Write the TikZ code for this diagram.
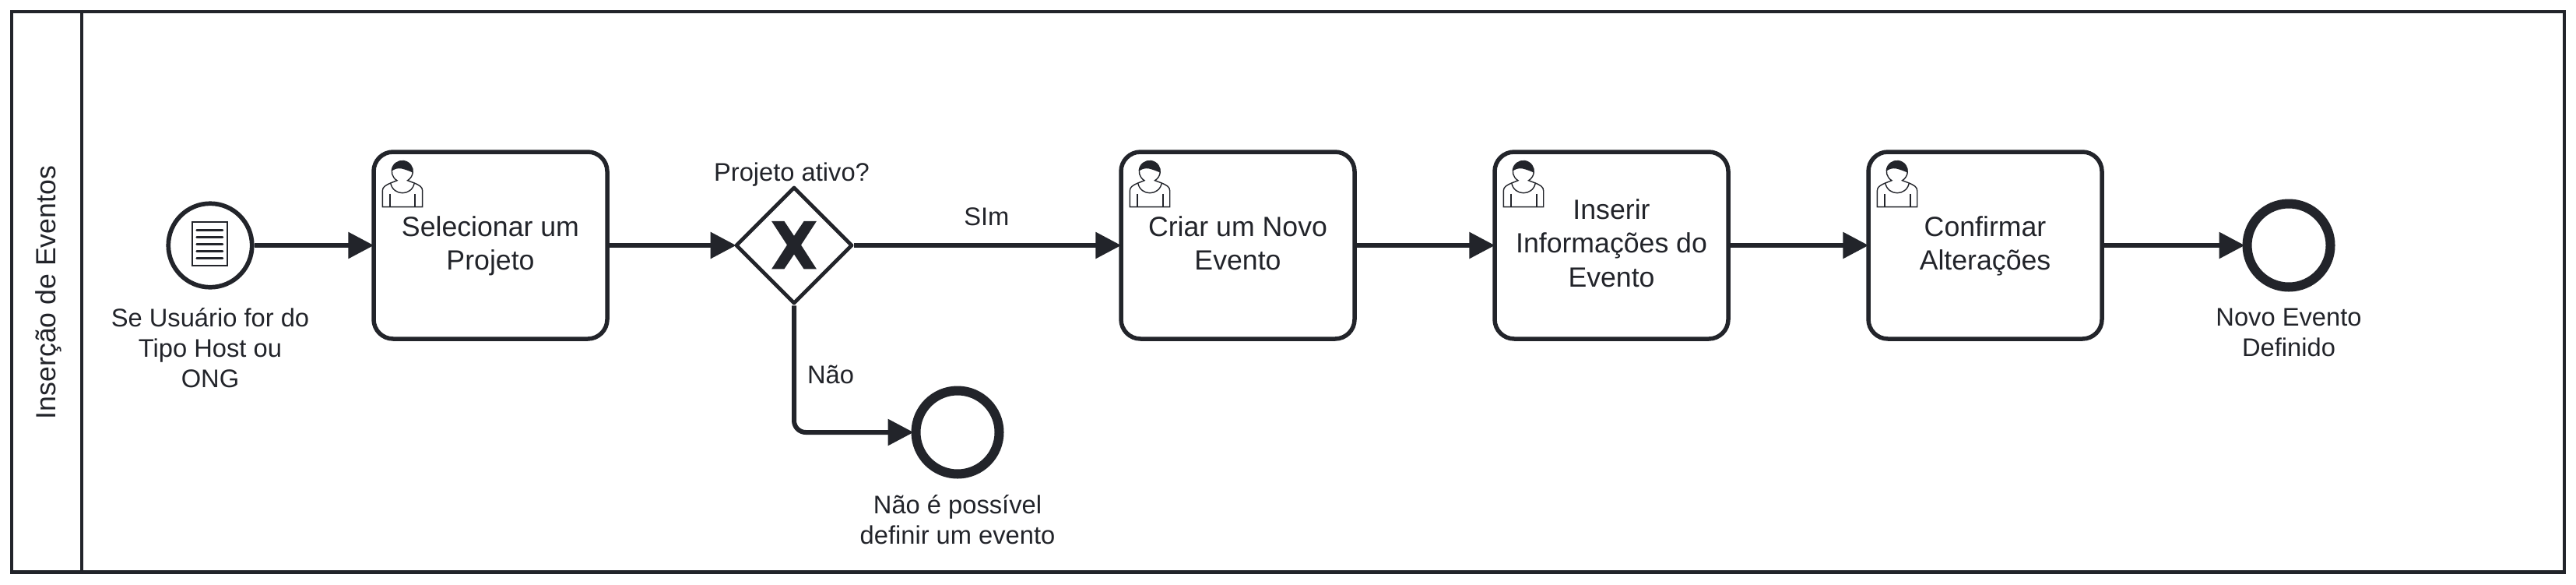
\documentclass[tikz,border=0pt]{standalone}
\usepackage{fontspec}
\usepackage{xcolor}
\usepackage{tikz}
\usetikzlibrary{shapes.geometric, arrows.meta, positioning}
\setmainfont{Liberation Sans}
\definecolor{bpmnink}{HTML}{22242A}
\tikzset{
  usericon/.pic={
    \begin{scope}[x=0.01cm, y=0.01cm, draw=bpmnink, line width=0.14mm]
    \fill [bpmnink] (-13.5,0.7) arc[start angle=177, end angle=-7, radius=0.135cm] .. controls (9,0.5) and (3,2.5) .. (-1,3.5) .. controls (-6,4.5) and (-10,3) .. cycle;
    \draw (-25.7,-45.7) -- (-25.7,-25) .. controls (-25.7,-20) and (-22,-18) .. (-15.3,-15) -- (-7,-11.7) arc[start angle=240, end angle=-60, radius=0.135cm] -- (15.3,-15) .. controls (22,-18) and (25.7,-20) .. (25.7,-25) -- (25.7,-45.7) -- cycle;
    \draw (-15.3,-15) .. controls (-12,-32) and (12,-32) .. (15.3,-15);
    \draw [line width=0.2mm] (-16.5,-29) -- (-16.5,-45.7);
    \draw [line width=0.2mm] (16.5,-29) -- (16.5,-45.7);
    \end{scope}
  },
  docicon/.pic={
    \begin{scope}[x=0.01cm, y=0.01cm, draw=bpmnink]
    \draw [line width=0.23mm] (-23.3,-26) rectangle (21.7,30);
    \foreach \y in {19.7,10.7,1.7,-7.3,-16.3}
      \draw [line width=0.27mm, line cap=round] (-17.3,\y) -- (16,\y);
    \end{scope}
  },
  xicon/.pic={
    \begin{scope}[x=0.01cm, y=0.01cm]
    \fill [bpmnink] (-29,30.7) -- (-12.7,30.7) -- (0,11.7) -- (12.7,30.7) -- (29,30.7) -- (9,0) -- (29,-31) -- (12.7,-31) -- (0,-12) -- (-12.7,-31) -- (-29,-31) -- (-9,0) -- cycle;
    \end{scope}
  }
}
\begin{document}
\begin{tikzpicture}[node distance=4.8cm, auto]
\tikzstyle{task} = [rectangle, minimum width=3cm, minimum height=2.4cm, align=center, draw=bpmnink, text=bpmnink, line width=0.55mm, rounded corners=0.25cm, inner sep=0pt, font=\fontsize{10.15}{12.38}\selectfont, text depth=0.06cm]
\tikzstyle{startev} = [circle, minimum size=1.075cm, inner sep=0pt, draw=bpmnink, line width=0.57mm]
\tikzstyle{endev} = [circle, minimum size=1.07cm, inner sep=0pt, draw=bpmnink, line width=1.2mm]
\tikzstyle{decision} = [diamond, aspect=1, minimum width=1.5cm, minimum height=1.5cm, inner sep=0pt, draw=bpmnink, line width=0.47mm, line join=round]
\tikzstyle{caption} = [align=center, text=bpmnink, inner sep=0pt, font=\fontsize{9.3}{11.1}\selectfont]
\tikzstyle{arrow} = [draw=bpmnink, line width=0.6mm, ->, >={Triangle[length=3.3mm,width=3.3mm]}, shorten >=-0.03cm]

\useasboundingbox (0,0) rectangle (33.09,-7.5);

\node (pool) [rectangle, minimum width=32.79cm, minimum height=7.195cm, draw=bpmnink, line width=0.43mm] at (16.545,-3.7475) {};
\draw [draw=bpmnink, line width=0.43mm] ([xshift=0.92cm]pool.north west) -- ([xshift=0.92cm]pool.south west);
\node (lane) [caption, font=\fontsize{10.15}{12.38}\selectfont, rotate=90, anchor=base] at (0.71,-3.755) {Inserção de Eventos};

\node (start) [startev] at (2.7,-3.15) {};
\node (selecionar) [task, right of=start, node distance=3.6cm] {Selecionar um\\Projeto};
\node (gateway) [decision, right of=selecionar, node distance=3.9cm] {};
\node (criar) [task, right of=gateway, node distance=5.7cm] {Criar um Novo\\Evento};
\node (inserir) [task, right of=criar] {Inserir\\Informações do\\Evento};
\node (confirmar) [task, right of=inserir] {Confirmar\\Alterações};
\node (novo) [endev, right of=confirmar, node distance=3.9cm] {};
\node (bloqueio) [endev, below of=gateway, node distance=2.4cm, xshift=2.1cm] {};

\node (startlabel) [caption, below=0.233cm of start] {Se Usuário for do\\Tipo Host ou\\ONG};
\node (gatewaylabel) [caption, anchor=base] at ([xshift=-0.03cm, yshift=0.05cm]gateway.north) {Projeto ativo?};
\node (novolabel) [caption, below=0.205cm of novo] {Novo Evento\\Definido};
\node (bloqueiolabel) [caption, below=0.205cm of bloqueio] {Não é possível\\definir um evento};

\foreach \t in {selecionar,criar,inserir,confirmar}
  \pic at ([shift={(-1.13,0.95)}]\t.center) {usericon};
\pic at (start.center) {docicon};
\pic at ([yshift=0.005cm]gateway.center) {xicon};

\draw [arrow] (start) -- (selecionar);
\draw [arrow] (selecionar) -- (gateway);
\draw [arrow] (gateway) -- node (sim) [caption, anchor=south, yshift=0.22cm] {SIm} (criar);
\draw [arrow] (criar) -- (inserir);
\draw [arrow] (inserir) -- (confirmar);
\draw [arrow] (confirmar) -- (novo);
\draw [arrow, rounded corners=0.15cm] (gateway) |- node (nao) [caption, pos=0.307, anchor=base west, xshift=0.14cm] {Não} (bloqueio);
\end{tikzpicture}
\end{document}
